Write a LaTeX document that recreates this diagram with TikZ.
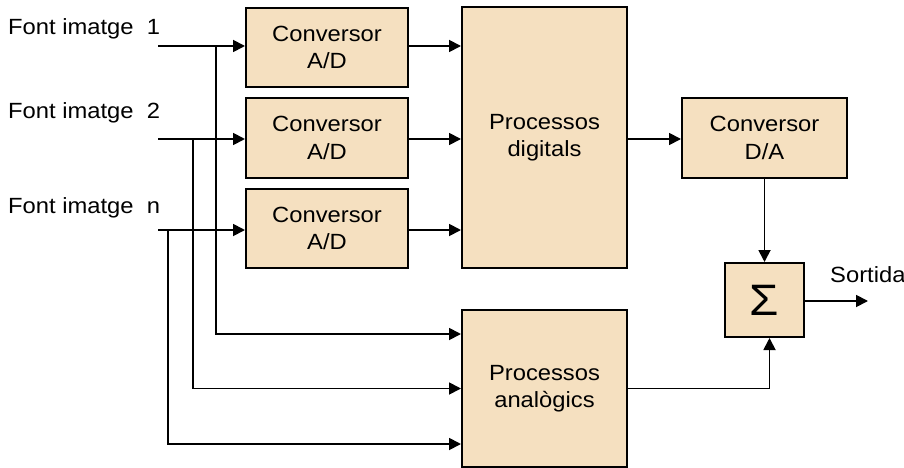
\documentclass[tikz,border=0pt]{standalone}
\usepackage{fontspec}
\setmainfont{Liberation Sans}[FakeStretch=1.08]
\usepackage{xcolor}
\usetikzlibrary{arrows.meta,calc,positioning}

\definecolor{blockfill}{HTML}{F5E0C0}

\begin{document}
\begin{tikzpicture}[x=1pt, y=-1pt, >={Triangle[length=12pt,width=12pt]}]
    \tikzset{
        blk/.style={draw, fill=blockfill, line width=2pt, align=center,
            inner sep=0pt, font=\fontsize{22}{27.5}\selectfont},
        sig/.style={draw, line width=1.8pt},
        txt/.style={font=\fontsize{22}{27.5}\selectfont, inner sep=0pt}
    }
    \useasboundingbox (0,0) rectangle (904,468);

    % blocks
    \node[blk, minimum width=162, minimum height=79] (ad1) at (327,47.5) {Conversor\\A/D};
    \node[blk, minimum width=162, minimum height=80] (ad2) at (327,138) {Conversor\\A/D};
    \node[blk, minimum width=162, minimum height=79] (ad3) at (327,228.5) {Conversor\\A/D};
    \node[blk, minimum width=165, minimum height=261] (dig) at (544.5,137.5) {Processos\\digitals};
    \node[blk, minimum width=165, minimum height=80] (da) at (764.5,138) {Conversor\\D/A};
    \node[blk, minimum width=79, minimum height=74, font=\fontsize{44}{44}\selectfont] (sum) at (764.5,300) {Σ};
    \node[blk, minimum width=165, minimum height=157] (ana) at (544.5,388.5) {Processos\\anal\`ogics};

    % inputs
    \coordinate (in1) at (158,46);
    \coordinate (in2) at (158,139);
    \coordinate (in3) at (158,230);
    \coordinate (br1) at (216,46);
    \coordinate (br2) at (193,139);
    \coordinate (br3) at (168,230);
    \coordinate (out) at (868,301);

    \node[txt, anchor=base west] (lab1) at (8,35) {Font imatge~~1};
    \node[txt, anchor=base west] (lab2) at (8,118) {Font imatge~~2};
    \node[txt, anchor=base west] (lab3) at (8,213) {Font imatge~~n};
    \node[txt, anchor=base west] (labout) at (830,282) {Sortida};

    \draw[sig, ->] (in1) -- (in1 -| ad1.west);
    \draw[sig, ->] (in2) -- (in2 -| ad2.west);
    \draw[sig, ->] (in3) -- (in3 -| ad3.west);

    \draw[sig, ->] (br1) |- ($(ana.west)+(0,-54.5)$);
    \draw[sig, ->] (br2) |- (ana.west);
    \draw[sig, ->] (br3) |- ($(ana.west)+(0,55.5)$);

    \draw[sig, ->] (in1 -| ad1.east) -- (in1 -| dig.west);
    \draw[sig, ->] (in2 -| ad2.east) -- (in2 -| dig.west);
    \draw[sig, ->] (in3 -| ad3.east) -- (in3 -| dig.west);

    \draw[sig, ->] (dig.east |- in2) -- (da.west |- in2);
    \draw[sig, ->] (da.south) -- (sum.north);
    \draw[sig, ->] (ana.east) -| ($(sum.south)+(5,0)$);
    \draw[sig, ->] (sum.east |- out) -- (out);

\end{tikzpicture}
\end{document}
